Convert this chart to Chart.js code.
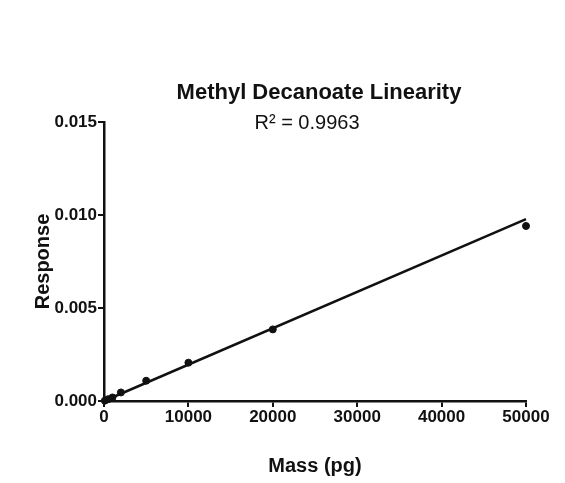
<!DOCTYPE html>
<html>
<head>
<meta charset="utf-8">
<script src="https://cdn.jsdelivr.net/npm/chart.js@4"></script>
<style>
  body { margin: 0; background: #fff; }
  canvas { display: block; }
</style>
</head>
<body>
<canvas id="grafico" width="565" height="483"></canvas>
<script>
const chartTitle = "Methyl Decanoate Linearity";
const rSquaredText = "R² = 0.9963";

// massa (pg) e resposta
const massValues = [100, 500, 1000, 2000, 5000, 10000, 20000, 50000];
const responseValues = [0.00002, 0.0001, 0.00019, 0.00046, 0.00109, 0.00206, 0.00385, 0.00941];

// extremos da reta de regressao
const fitMass = [0, 50000];
const fitResponse = [0.0, 0.00978];

const xTicks = [0, 10000, 20000, 30000, 40000, 50000];
const yTicks = [0, 0.005, 0.01, 0.015];

const ink = "#111";
const fontFamily = "'Liberation Sans', Arial, sans-serif";

const pontos = massValues.map((m, i) => ({ x: m, y: responseValues[i] }));
const reta = fitMass.map((m, i) => ({ x: m, y: fitResponse[i] }));

// titulo e R² desenhados por cima da area do grafico
const titulos = {
  id: "titulos",
  afterDraw(chart) {
    const { ctx } = chart;
    ctx.save();
    ctx.fillStyle = ink;
    ctx.textAlign = "center";
    ctx.textBaseline = "alphabetic";
    ctx.font = "bold 22px " + fontFamily;
    ctx.fillText(chartTitle, 319, 99);
    ctx.font = "20px " + fontFamily;
    ctx.fillText(rSquaredText, 307, 129);
    ctx.restore();
  },
};

const ctx = document.getElementById("grafico");

new Chart(ctx, {
  type: "scatter",
  data: {
    datasets: [
      {
        label: "Dados",
        data: pontos,
        backgroundColor: ink,
        borderColor: ink,
        pointRadius: 3.5,
        pointHoverRadius: 3.5,
        showLine: false,
        clip: false,
      },
      {
        label: "Ajuste",
        data: reta,
        borderColor: ink,
        borderWidth: 2.5,
        pointRadius: 0,
        showLine: true,
        clip: false,
      },
    ],
  },
  options: {
    responsive: false,
    animation: false,
    layout: { padding: { top: 122, right: 39, left: 0, bottom: 0 } },
    plugins: {
      legend: { display: false },
      tooltip: { enabled: false },
    },
    scales: {
      x: {
        type: "linear",
        min: 0,
        max: 50000,
        afterFit: (s) => { s.height = 82; },
        afterBuildTicks: (s) => { s.ticks = xTicks.map((v) => ({ value: v })); },
        ticks: {
          color: ink,
          padding: 0,
          font: { family: fontFamily, size: 17, weight: "bold" },
          callback: (v) => String(v),
        },
        grid: { drawOnChartArea: false, color: ink, lineWidth: 2, tickLength: 6 },
        border: { color: ink, width: 2.5 },
        title: {
          display: true,
          text: "Mass (pg)",
          color: ink,
          font: { family: fontFamily, size: 20, weight: "bold", lineHeight: 1.2 },
          padding: { top: 0, bottom: 5 },
        },
      },
      y: {
        type: "linear",
        min: 0,
        max: 0.015,
        afterFit: (s) => { s.width = 104; },
        afterBuildTicks: (s) => { s.ticks = yTicks.map((v) => ({ value: v })); },
        ticks: {
          color: ink,
          padding: 1,
          font: { family: fontFamily, size: 17, weight: "bold" },
          callback: (v) => Number(v).toFixed(3),
        },
        grid: { drawOnChartArea: false, color: ink, lineWidth: 2, tickLength: 6 },
        border: { color: ink, width: 2.5 },
        title: {
          display: true,
          text: "Response",
          color: ink,
          font: { family: fontFamily, size: 20, weight: "bold", lineHeight: 1.2 },
          padding: { top: 31, bottom: 0 },
        },
      },
    },
  },
  plugins: [titulos],
});
</script>
</body>
</html>
